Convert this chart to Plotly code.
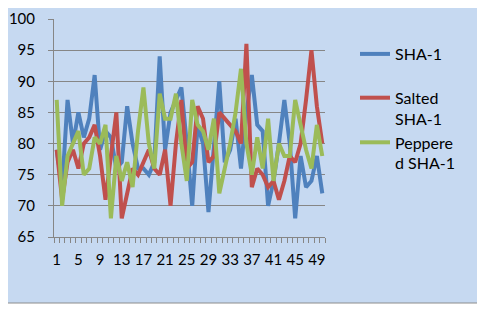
import plotly.graph_objects as go

x_values = list(range(1, 51))
tick_labels = [str(v) for v in range(1, 51, 4)]

sha1 = [79, 73, 87, 80, 85, 81, 84, 91, 79, 82,
        81, 76, 77, 86, 80, 76, 76, 75, 77, 94,
        79, 85, 87, 89, 80, 70, 83, 80, 69, 80,
        90, 77, 79, 84, 76, 85, 91, 83, 82, 70,
        74, 80, 87, 80, 68, 78, 73, 74, 78, 72]

salted = [79, 71, 77, 79, 76, 80, 81, 83, 78, 71,
          78, 85, 68, 72, 76, 75, 77, 79, 76, 75,
          79, 70, 80, 87, 76, 77, 86, 84, 77, 78,
          85, 84, 83, 82, 80, 96, 73, 76, 75, 73,
          74, 71, 74, 78, 77, 80, 87, 95, 86, 80]

peppered = [87, 70, 78, 80, 82, 75, 76, 81, 80, 83,
            68, 78, 74, 77, 73, 82, 89, 80, 76, 88,
            84, 84, 88, 80, 74, 87, 83, 82, 79, 84,
            72, 76, 80, 85, 92, 80, 75, 81, 76, 84,
            74, 80, 78, 78, 87, 83, 79, 76, 83, 78]

series_names = ["SHA-1", "Salted<br>SHA-1", "Peppere<br>d SHA-1"]
series_colors = ["#4F81BD", "#C0504D", "#9BBB59"]
series_groups = ["g1", "g2", "g2"]

fig = go.Figure()
for vals, name, color, grp in zip([sha1, salted, peppered], series_names, series_colors, series_groups):
    fig.add_trace(go.Scatter(
        x=x_values, y=vals, mode="lines", name=name,
        legendgroup=grp,
        line=dict(color=color, width=4),
    ))

# figure coordinates (page body adds an 8px offset)
W, H = 477, 301
L, R, T, B = 46, 317, 11, 229
pw, ph = R - L, B - T

fig.add_shape(
    type="rect", xref="paper", yref="paper", layer="below",
    x0=(-4 - L) / pw, x1=(472 - L) / pw,
    y0=(B - 295) / ph, y1=(B + 5) / ph,
    fillcolor="#C6D9F1", line=dict(color="#8C8C8C", width=1),
)

font_family = "Lato, 'Open Sans', sans-serif"

fig.update_layout(
    width=W, height=H,
    margin=dict(l=L, r=W - R, t=T, b=H - B, pad=0, autoexpand=False),
    paper_bgcolor="white",
    plot_bgcolor="white",
    font=dict(family=font_family, size=15, color="#000000"),
    showlegend=True,
    legend=dict(
        x=(347 - L) / pw, y=(B - 29) / ph, xanchor="left", yanchor="top",
        bgcolor="rgba(0,0,0,0)", borderwidth=0,
        font=dict(family=font_family, size=16, color="#000000"),
        valign="top", tracegroupgap=20, traceorder="grouped",
    ),
)

fig.update_xaxes(
    range=[0.5, 50.5],
    tickmode="array",
    tickvals=list(range(1, 51, 4)),
    ticktext=tick_labels,
    ticks="", showgrid=False, zeroline=False,
    showline=True, linecolor="#868686", linewidth=1,
    ticklabelstandoff=9, automargin=False,
    minor=dict(ticks="outside", tickmode="linear", tick0=0.5, dtick=1,
               ticklen=5, tickcolor="#868686", showgrid=False),
    tickfont=dict(size=15),
)

fig.update_yaxes(
    range=[65, 100], dtick=5, tick0=65,
    showgrid=True, gridcolor="#868686", gridwidth=1,
    zeroline=False,
    showline=True, linecolor="#868686", linewidth=1,
    ticks="outside", ticklen=5, tickcolor="#868686",
    ticklabelstandoff=10, automargin=False,
    tickfont=dict(size=15),
)

fig.write_html("out.html")
